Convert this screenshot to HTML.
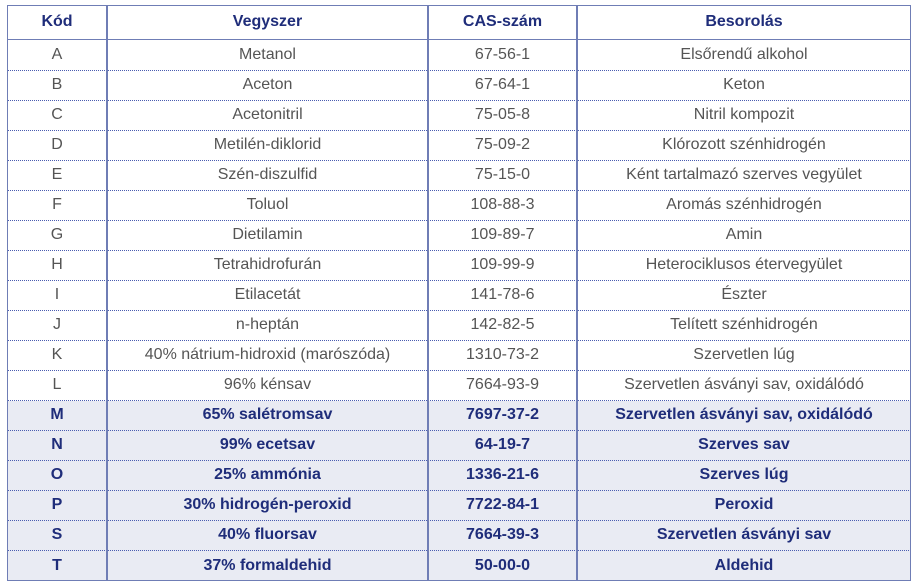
<!DOCTYPE html>
<html><head><meta charset="utf-8"><style>
body{margin:0;width:920px;height:585px;background:#fff;overflow:hidden;font-family:"Liberation Sans Narrow","Liberation Sans",sans-serif;}
#t{position:absolute;left:7px;top:5px;width:904px;height:576px;}
#frame{position:absolute;left:7px;top:5px;width:904px;height:576px;border:1.5px solid #6f7db5;box-sizing:border-box;pointer-events:none;}
.row{position:absolute;left:0;width:904px;height:30px;border-bottom:1.5px dotted #4a5cb0;box-sizing:border-box;}
.row.b{background:#e9ebf3;}
.c{position:absolute;top:0;height:100%;display:flex;align-items:center;justify-content:center;font-size:16px;color:#555;white-space:nowrap;}
.b .c,.h .c{color:#1f2d7a;font-weight:bold;}
.h{border-bottom:1.5px solid #6f7db5;height:35px;}
.vl{position:absolute;top:0;height:100%;width:1.5px;background:#6f7db5;}
</style></head><body>
<div id="t"></div>
<div id="frame"></div>
<script>
var codes=["A","B","C","D","E","F","G","H","I","J","K","L","M","N","O","P","S","T"];
var names=["Metanol","Aceton","Acetonitril","Metilén-diklorid","Szén-diszulfid","Toluol","Dietilamin","Tetrahidrofurán","Etilacetát","n-heptán","40% nátrium-hidroxid (marószóda)","96% kénsav","65% salétromsav","99% ecetsav","25% ammónia","30% hidrogén-peroxid","40% fluorsav","37% formaldehid"];
var cas=["67-56-1","67-64-1","75-05-8","75-09-2","75-15-0","108-88-3","109-89-7","109-99-9","141-78-6","142-82-5","1310-73-2","7664-93-9","7697-37-2","64-19-7","1336-21-6","7722-84-1","7664-39-3","50-00-0"];
var cls=["Elsőrendű alkohol","Keton","Nitril kompozit","Klórozott szénhidrogén","Ként tartalmazó szerves vegyület","Aromás szénhidrogén","Amin","Heterociklusos étervegyület","Észter","Telített szénhidrogén","Szervetlen lúg","Szervetlen ásványi sav, oxidálódó","Szervetlen ásványi sav, oxidálódó","Szerves sav","Szerves lúg","Peroxid","Szervetlen ásványi sav","Aldehid"];
var t=document.getElementById('t');
var colL=[0,100,421,570], colW=[100,321,149,334];
var hdr=["Kód","Vegyszer","CAS-szám","Besorolás"];
function mk(top,vals,cn,name){
  var r=document.createElement('div');
  
  
  r.className='row '+cn;r.style.top=top+'px';
  for(var i=0;i<4;i++){var c=document.createElement('div');
    
    
    c.className='c';c.style.left=colL[i]+'px';c.style.width=colW[i]+'px';c.textContent=vals[i];r.appendChild(c);}
  t.appendChild(r);
  return r;
}
mk(0,hdr,'h','header-row');
var last;
for(var k=0;k<codes.length;k++){
  last=mk(35.5+k*30,[codes[k],names[k],cas[k],cls[k]],k>=12?'b':'','row-'+codes[k].toLowerCase());
}
last.style.borderBottom='none';
for(var j=1;j<4;j++){var v=document.createElement('div');
  
  
  v.className='vl';v.style.left=(colL[j]-1)+'px';t.appendChild(v);}
</script>
</body></html>
